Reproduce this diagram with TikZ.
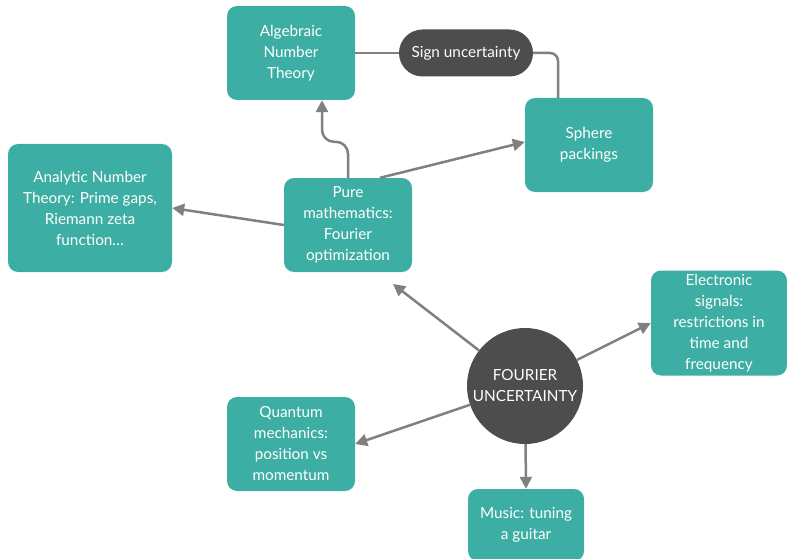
\documentclass[tikz,border=0pt]{standalone}
\usepackage{fontspec}
\setmainfont{Lato}
\usetikzlibrary{arrows.meta}
\definecolor{mapteal}{RGB}{61,174,163}
\definecolor{mapdark}{RGB}{77,77,77}
\definecolor{mapgray}{RGB}{128,128,128}
\begin{document}
\begin{tikzpicture}[
  x=1pt, y=-1pt,
  >={Triangle[length=12pt,width=12pt]},
  every node/.style={text=white, align=center, font=\fontsize{15.3}{21}\selectfont},
  topic/.style={fill=mapteal, rounded corners=10pt, minimum width=128pt, minimum height=94pt},
  hub/.style={circle, fill=mapdark, minimum size=116pt, inner sep=0pt},
  link/.style={draw=mapgray, line width=2.5pt}
]
\useasboundingbox (0,0) rectangle (787,559);

\node[topic] (alg)    at (291,53)  {Algebraic\\Number\\Theory};
\node[topic, fill=mapdark, rounded corners=23.5pt, minimum width=134pt, minimum height=47pt] (sign) at (466,53) {Sign uncertainty};
\node[topic] (sphere) at (589,145) {Sphere\\packings};
\node[topic, minimum width=164pt, minimum height=128pt] (ant) at (90,208) {Analytic Number\\Theory: Prime gaps,\\Riemann zeta\\function…};
\node[topic] (pure)   at (348,225) {Pure\\mathematics:\\Fourier\\optimization};

\node[hub] (fou) at (525,386) {FOURIER\\UNCERTAINTY};
\node[topic, minimum width=136pt, minimum height=105pt, inner sep=1pt] (elec) at (719,323) {Electronic\\signals:\\restrictions in\\time and\\frequency};
\node[topic] (quan)   at (291,444) {Quantum\\mechanics:\\position vs\\momentum};
\node[topic, minimum width=116pt, minimum height=72pt] (music) at (526,525) {Music: tuning\\a guitar};

\coordinate (pureTip) at (393,284);

\draw[link] (alg.east) -- (sign.west);
\draw[link, rounded corners=8pt] (sign.east) -| ([xshift=-31pt]sphere.north);
\draw[link, ->, rounded corners=12pt] (pure.north) -- ++(0,-36) -| ([xshift=31pt]alg.south);
\draw[link, ->] ([xshift=32pt]pure.north) -- ([yshift=3pt]sphere.west);
\draw[link, ->] (pure.west) -- (ant.east);

\draw[link, ->] (fou) -- (pureTip);
\draw[link, ->] (fou) -- (elec.west);
\draw[link, ->] (fou) -- (quan.east);
\draw[link, ->] (fou) -- (music.north);

\end{tikzpicture}
\end{document}
